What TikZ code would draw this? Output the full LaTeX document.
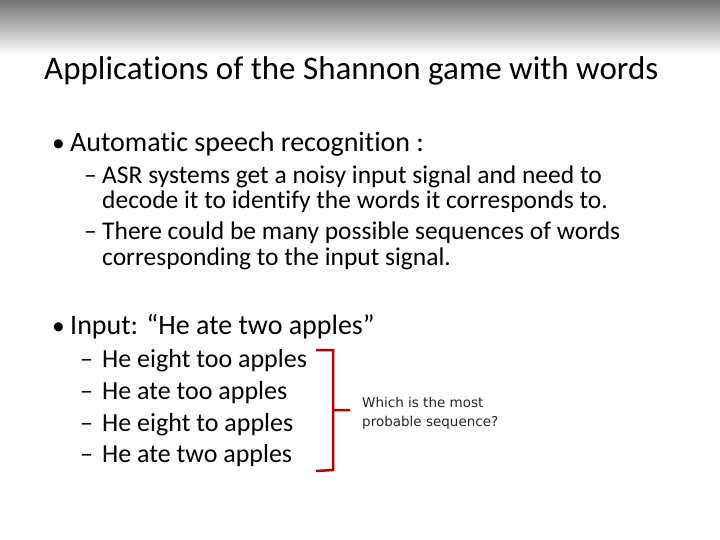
\documentclass[tikz,border=0pt]{standalone}
\usepackage{fontspec}
\setmainfont{Carlito}[Ligatures={NoCommon,NoRare,NoDiscretionary}]
\setsansfont{DejaVu Sans}
\begin{document}
\begin{tikzpicture}[x=1pt,y=-1pt,
 tx/.style={anchor=base west,inner sep=0pt},
 ti/.style={tx,font=\fontsize{33}{36}\selectfont},
 l1/.style={tx,font=\fontsize{28}{30}\selectfont},
 l2/.style={tx,font=\fontsize{25.5}{28}\selectfont},
 it/.style={tx,font=\fontsize{26}{28}\selectfont},
 sm/.style={tx,font=\sffamily\fontsize{13.5}{16}\selectfont,text=black!85}]
\useasboundingbox (0,0) rectangle (720,540);
\fill[white] (0,0) rectangle (720,540);
\shade[top color=black!55,bottom color=white] (0,0) rectangle (720,55);
\node[ti] (t) at (44,80) {Applications of the Shannon game with words};
\node[l2] (b1d) at (52,152) {•};
\node[l1] (b1) at (70,152) {Automatic speech recognition :};
\node[l2] (s1d) at (84,184) {–};
\node[l2] (s1) at (102,184) {ASR systems get a noisy input signal and need to};
\node[l2] (s1b) at (102,209) {decode it to identify the words it corresponds to.};
\node[l2] (s2d) at (84,240) {–};
\node[l2] (s2) at (102,240) {There could be many possible sequences of words};
\node[l2] (s2b) at (102,265) {corresponding to the input signal.};
\node[l2] (b2d) at (52,334) {•};
\node[l1] (b2) at (70,334) {Input: “He ate two apples”};
\node[it] (i1d) at (80,367) {–};
\node[it] (i1) at (102,367) {He eight too apples};
\node[it] (i2d) at (80,399) {–};
\node[it] (i2) at (102,399) {He ate too apples};
\node[it] (i3d) at (80,431) {–};
\node[it] (i3) at (102,431) {He eight to apples};
\node[it] (i4d) at (80,462) {–};
\node[it] (i4) at (102,462) {He ate two apples};
\draw[red!70!black,line width=2.5pt] (316,350) -- (333,350) -- (333,470) -- (316,471)
  (333,410) -- (350,410);
\node[sm] (q1) at (362,407) {Which is the most};
\node[sm] (q2) at (362,426) {probable sequence?};
\end{tikzpicture}
\end{document}
